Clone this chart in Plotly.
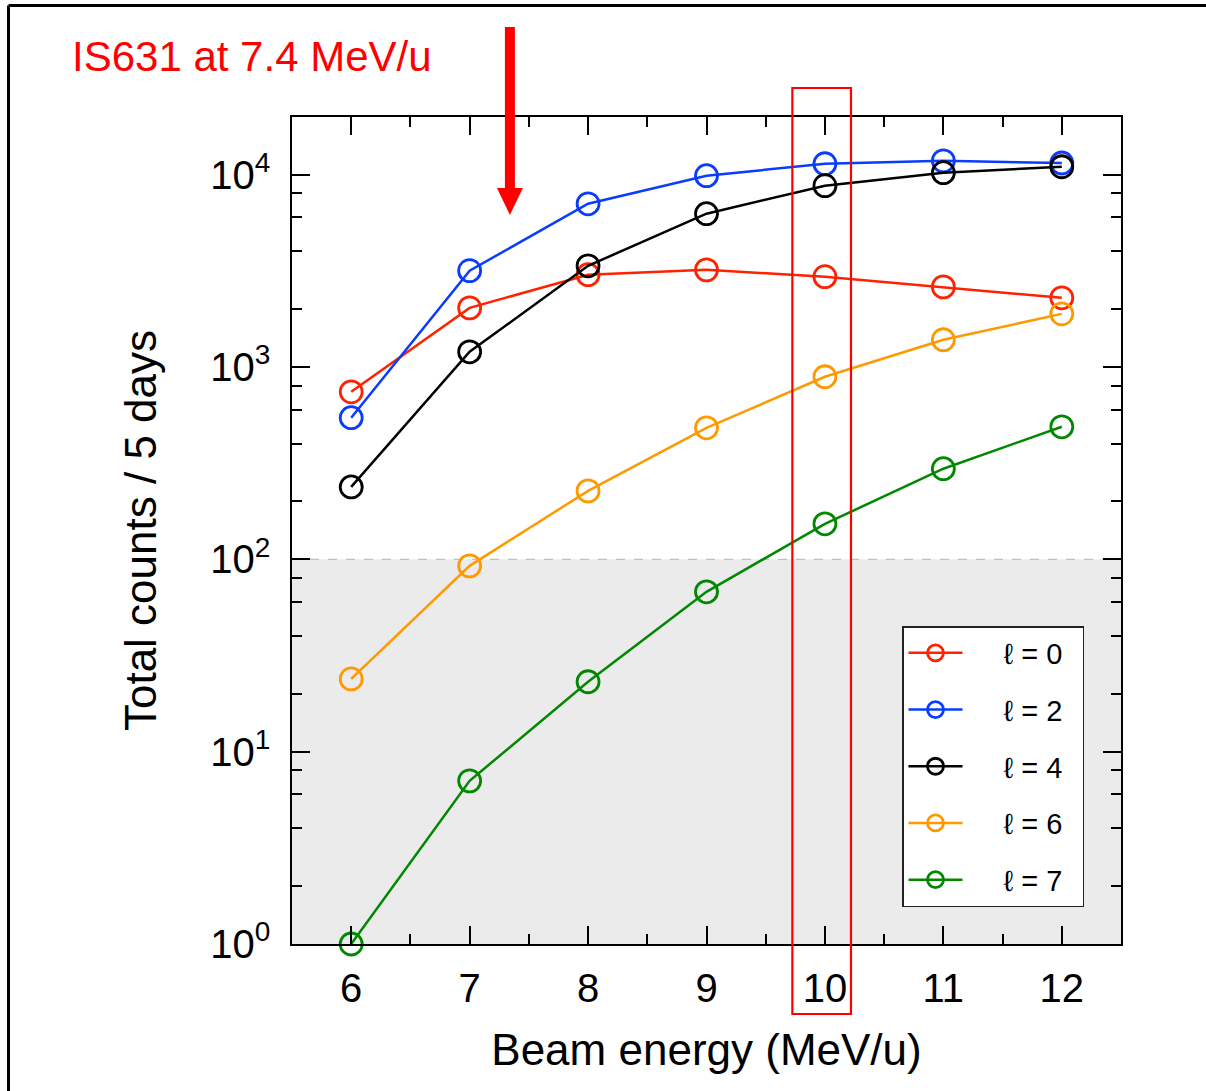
import plotly.graph_objects as go

energy = [6, 7, 8, 9, 10, 11, 12]
l0 = [743, 2030, 3020, 3200, 2950, 2610, 2290]
l2 = [545, 3170, 7060, 9880, 11400, 11800, 11500]
l4 = [238, 1200, 3360, 6270, 8770, 10240, 11000]
l6 = [23.9, 92.5, 227, 483, 890, 1386, 1890]
l7 = [1.0, 7.05, 23.1, 67.8, 153, 296, 489]

series_names = ["ℓ = 0", "ℓ = 2", "ℓ = 4", "ℓ = 6", "ℓ = 7"]
series_vals = [l0, l2, l4, l6, l7]
series_colors = ["#ff2200", "#0a3cff", "#000000", "#ff9900", "#008800"]

x_ticks = [6, 7, 8, 9, 10, 11, 12]
x_minor = [6.5, 7.5, 8.5, 9.5, 10.5, 11.5]
y_ticks = [1, 10, 100, 1000, 10000]
y_ticktext = ["10<sup>0</sup>", "10<sup>1</sup>", "10<sup>2</sup>", "10<sup>3</sup>", "10<sup>4</sup>"]
y_minor = [m * 10 ** d for d in range(4) for m in (2, 4, 6, 8)]

W, H = 1206, 1091
L, R, T, B = 292, 85, 117, 147
PW, PH = W - L - R, H - T - B


def px(xpix):
    return (xpix - L) / PW


def py(ypix):
    return 1 - (ypix - T) / PH


fig = go.Figure()
for name, vals, col in zip(series_names, series_vals, series_colors):
    fig.add_trace(go.Scatter(
        x=energy, y=vals, name="\u2003\u2005" + name + "\u2002", mode="lines+markers",
        line=dict(color=col, width=2.5),
        marker=dict(symbol="circle-open", size=22, color=col, line=dict(width=2.8, color=col)),
        legendgroup=name, cliponaxis=False,
    ))

font = "Liberation Sans"
shapes = [
    # grey shaded region below 10^2
    dict(type="rect", xref="paper", yref="paper", x0=0, x1=1, y0=0, y1=2 / 4.3,
         fillcolor="#ebebeb", line=dict(width=0), layer="below"),
    dict(type="line", xref="paper", yref="paper", x0=0, x1=1, y0=2 / 4.3, y1=2 / 4.3,
         line=dict(color="#c0c0c0", width=1.2, dash="dash"), layer="below"),
    # red highlight box at 10 MeV/u
    dict(type="rect", xref="x", yref="paper", x0=9.725, x1=10.22, y0=py(1014), y1=py(88),
         line=dict(color="#ff0000", width=2.2), fillcolor="rgba(0,0,0,0)"),
    # arrow shaft
    dict(type="line", xref="x", yref="paper", x0=7.34, x1=7.34, y0=py(27), y1=py(190),
         line=dict(color="#ff0000", width=10)),
    # arrow head
    dict(type="path", xref="x", yref="paper",
         path=f"M {7.34 - 13 / 118.67},{py(188)} L {7.34 + 13 / 118.67},{py(188)} L 7.34,{py(215)} Z",
         fillcolor="#ff0000", line=dict(width=0)),
    # outer frame (left and top)
    dict(type="line", xref="paper", yref="paper", x0=px(8.5), x1=px(8.5), y0=py(5.5), y1=py(1100),
         line=dict(color="#000000", width=3)),
    dict(type="line", xref="paper", yref="paper", x0=px(8.5), x1=px(1215), y0=py(5.5), y1=py(5.5),
         line=dict(color="#000000", width=3)),
]

fig.update_layout(
    width=W, height=H,
    margin=dict(l=L, r=R, t=T, b=B),
    paper_bgcolor="white", plot_bgcolor="white",
    font=dict(family=font, color="#000000"),
    shapes=shapes,
    showlegend=True,
    legend=dict(
        x=px(902), y=py(626), xanchor="left", yanchor="top",
        bgcolor="white", bordercolor="#222222", borderwidth=1.5,
        font=dict(size=29, family=font), tracegroupgap=16, itemwidth=54,
    ),
    annotations=[
        dict(text="IS631 at 7.4 MeV/u", xref="paper", yref="paper", x=px(70), y=py(56),
             xanchor="left", yanchor="middle", showarrow=False,
             font=dict(size=42, color="#ff0000", family="Liberation Sans")),
    ],
)

fig.update_xaxes(
    range=[5.5, 12.5], tickvals=x_ticks, ticks="inside", ticklen=18, tickwidth=1.5,
    tickcolor="#000", showline=True, linecolor="#000", linewidth=1.5, mirror="ticks",
    showgrid=False, zeroline=False, tickfont=dict(size=40), ticklabelstandoff=8,
    minor=dict(tickvals=x_minor, ticks="inside", ticklen=10, tickwidth=1.5, tickcolor="#000", showgrid=False),
    title=dict(text="Beam energy (MeV/u)", font=dict(size=44), standoff=25),
)
fig.update_yaxes(
    type="log", range=[0, 4.3], tickvals=y_ticks, ticktext=y_ticktext, ticks="inside",
    ticklen=18, tickwidth=1.5, tickcolor="#000", showline=True, linecolor="#000", linewidth=1.5,
    mirror="ticks", showgrid=False, zeroline=False, tickfont=dict(size=40), ticklabelstandoff=12,
    minor=dict(tickvals=y_minor, ticks="inside", ticklen=10, tickwidth=1.5, tickcolor="#000", showgrid=False),
    title=dict(text="Total counts / 5 days", font=dict(size=44), standoff=40),
)

fig.write_html("out.html")
